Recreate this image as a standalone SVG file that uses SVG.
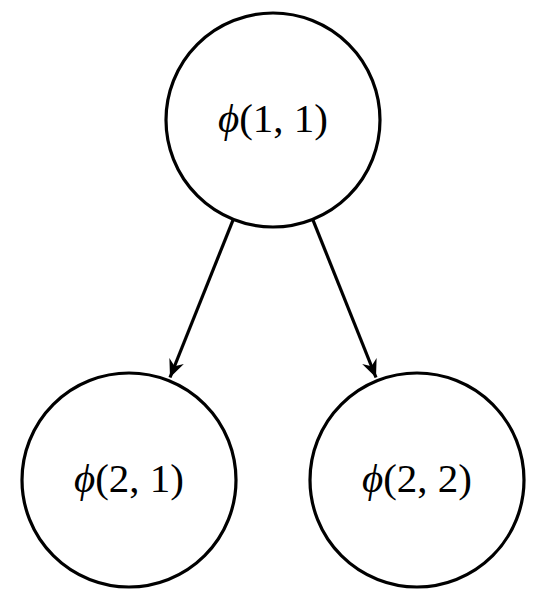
<svg xmlns="http://www.w3.org/2000/svg" width="542" height="592" viewBox="0 0 542 592">
  <style>
    .node circle { fill: #ffffff; stroke: #000000; stroke-width: 3.2; }
    .node text { font-family: "Liberation Serif", "DejaVu Serif", serif; font-size: 41px; fill: #000000; text-anchor: middle; }
    .node .phi { font-family: "Liberation Serif", "DejaVu Serif", serif; font-style: italic; }
    .edge { stroke: #000000; stroke-width: 3.2; fill: none; }
  </style>
  <defs>
    <marker id="arrow" markerUnits="userSpaceOnUse" markerWidth="20" markerHeight="20" viewBox="-16 -8 18 16" refX="0" refY="0" orient="auto">
      <path d="M0,0 L-16,-7 L-11,0 L-16,7 Z" fill="#000000"/>
    </marker>
  </defs>
  <rect width="542" height="592" fill="#ffffff"/>
  <g id="connectors">
    <line class="edge" x1="233.3" y1="219.3" x2="170" y2="377.5" marker-end="url(#arrow)"/>
    <line class="edge" x1="312.7" y1="219.3" x2="376" y2="377.5" marker-end="url(#arrow)"/>
  </g>
  <g id="node-1-1" class="node">
    <circle cx="273" cy="120" r="107"/>
    <text x="273" y="132"><tspan class="phi">ϕ</tspan>(1, 1)</text>
  </g>
  <g id="node-2-1" class="node">
    <circle cx="129" cy="480" r="107"/>
    <text x="129" y="492"><tspan class="phi">ϕ</tspan>(2, 1)</text>
  </g>
  <g id="node-2-2" class="node">
    <circle cx="417" cy="480" r="107"/>
    <text x="417" y="492"><tspan class="phi">ϕ</tspan>(2, 2)</text>
  </g>
</svg>
